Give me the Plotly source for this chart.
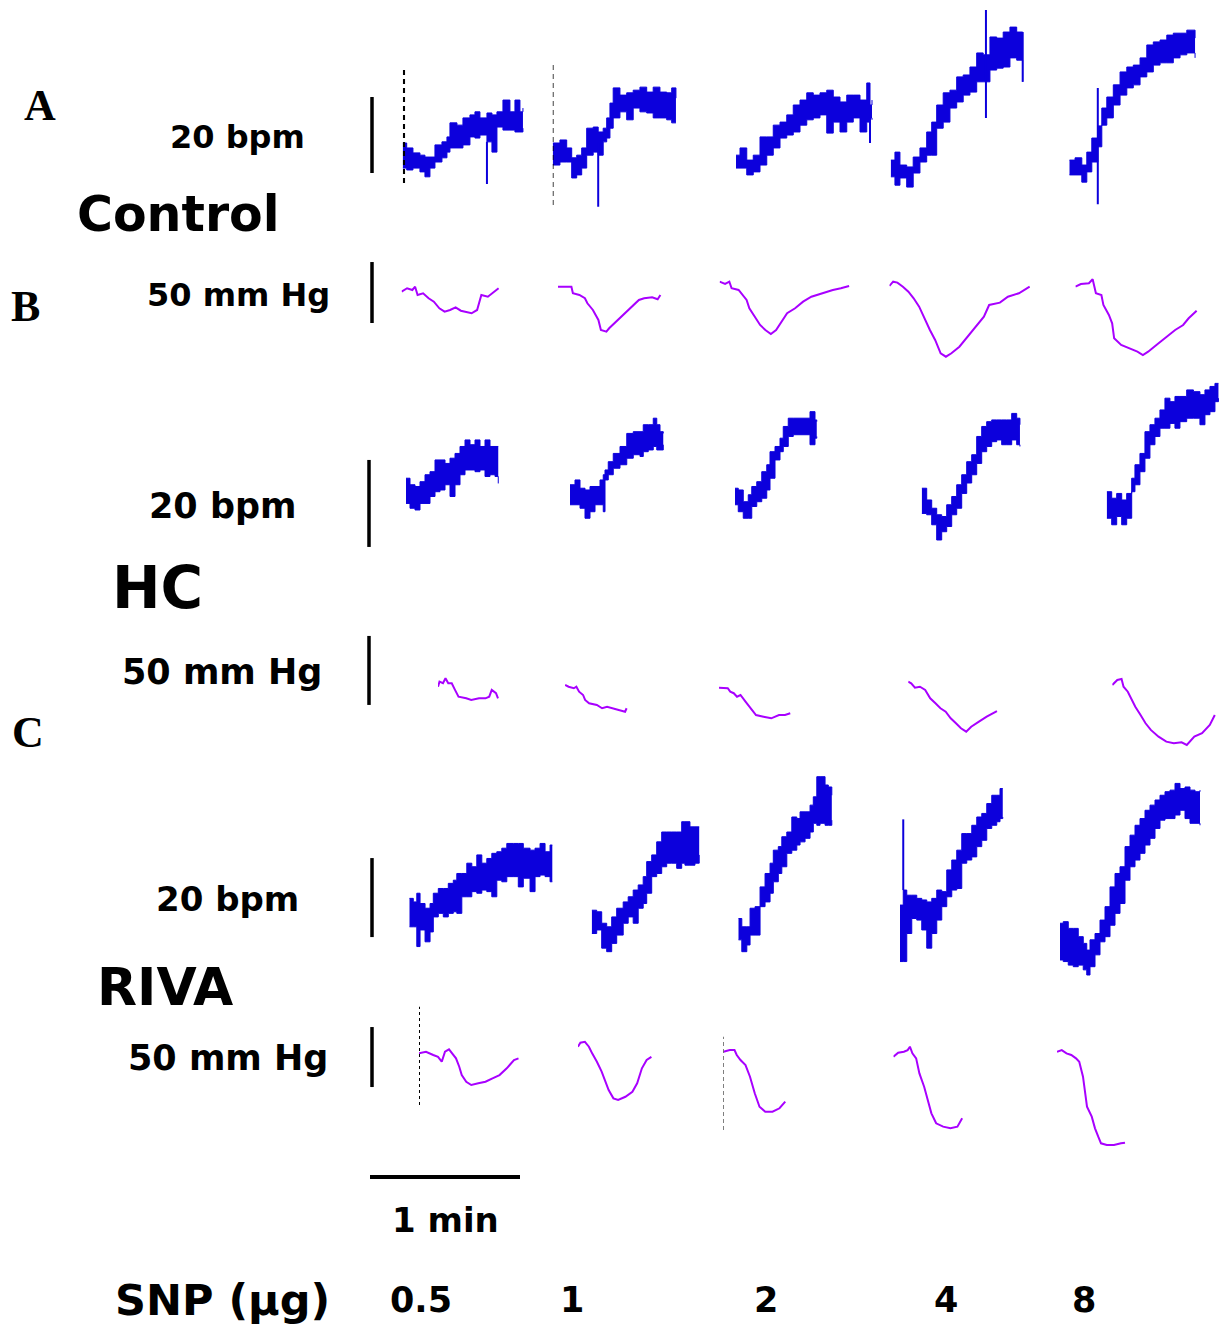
import plotly.graph_objects as go

# ------------------------------------------------------------------ data
# Heart-rate traces (bpm, row-relative units); band = beat-to-beat spread (HI/LO)
# time in seconds from start of each SNP response
C_HR1_T = [0, 1.6, 4.1, 6.9, 8.9, 10.9, 12.9, 15.7, 17.7, 18.9, 21.7, 24.1, 26.9, 28.9, 30.9, 33.7, 35.7, 37.7, 40.1, 42.9, 44.9, 46.9, 48.1]
C_HR1_HI = [15.0, 13.7, 12.4, 11.8, 11.3, 11.3, 14.5, 15.3, 16.6, 20.3, 19.7, 21.6, 22.4, 23.2, 21.6, 22.9, 22.4, 23.2, 26.3, 23.2, 26.3, 23.2, 24.2]
C_HR1_LO = [8.4, 7.9, 8.4, 7.4, 6.1, 8.4, 10.0, 11.1, 12.6, 13.7, 13.7, 14.5, 16.6, 16.3, 17.1, 15.3, 12.6, 19.2, 18.4, 18.4, 17.9, 17.9, 18.9]
C_HR1_SPK = [(33.7, 15.3, 4.2)]

C_HR2_T = [0, 2.9, 5.6, 7.6, 9.6, 11.6, 13.6, 16.2, 18.2, 20.2, 21.6, 22.9, 24.2, 26.9, 29.6, 32.2, 34.9, 37.6, 40.2, 42.9, 45.6, 47.6, 49.3]
C_HR2_HI = [15.0, 15.8, 13.7, 11.1, 11.8, 13.7, 18.9, 19.2, 17.9, 18.9, 21.6, 25.5, 29.5, 27.6, 28.2, 28.9, 29.7, 28.4, 29.7, 28.4, 28.2, 29.5, 26.8]
C_HR2_LO = [9.2, 10.0, 10.0, 5.8, 6.6, 8.4, 11.8, 12.6, 11.8, 15.3, 16.3, 18.9, 21.6, 23.2, 21.1, 24.2, 23.2, 22.9, 21.6, 21.6, 21.1, 20.3, 20.3]
C_HR2_SPK = [(18.2, 15.0, -1.8)]

C_HR3_T = [0, 1.6, 4.3, 6.9, 9.6, 12.3, 14.9, 17.6, 20.3, 22.9, 25.6, 28.3, 30.9, 33.6, 36.3, 38.9, 41.6, 44.3, 46.9, 49.6, 52.3, 53.6, 54.4]
C_HR3_HI = [11.8, 13.7, 10.5, 11.8, 16.6, 16.6, 19.7, 20.5, 22.4, 25.0, 26.3, 28.2, 27.6, 28.2, 28.9, 27.1, 25.8, 27.6, 27.6, 26.3, 30.8, 25.0, 26.3]
C_HR3_LO = [8.4, 8.4, 6.6, 7.4, 9.2, 11.8, 13.7, 16.3, 17.1, 17.9, 19.7, 21.1, 21.6, 22.4, 17.6, 20.5, 17.9, 20.5, 21.6, 17.9, 20.5, 21.6, 21.1]
C_HR3_SPK = [(53.6, 22.0, 15.0)]

C_HR4_T = [0, 1.7, 3.7, 6.4, 9.0, 11.7, 14.4, 16.4, 18.4, 21.0, 23.7, 26.4, 29.0, 31.7, 34.4, 37.0, 39.7, 42.4, 45.0, 47.7, 50.4, 52.8]
C_HR4_HI = [10.5, 12.6, 9.2, 8.7, 11.3, 13.7, 17.9, 20.5, 25.0, 28.2, 28.9, 32.4, 32.9, 35.0, 38.7, 38.2, 42.9, 42.6, 44.2, 45.5, 44.2, 44.2]
C_HR4_LO = [6.1, 3.9, 5.8, 3.4, 7.1, 10.0, 11.8, 11.8, 18.9, 20.5, 24.2, 25.8, 27.6, 28.4, 31.1, 31.1, 34.2, 34.7, 35.0, 37.4, 36.8, 31.1]
C_HR4_SPK = [(38.1, 50.0, 21.6), (52.8, 44.2, 31.1)]

C_HR5_T = [0, 2.3, 5.0, 7.0, 9.0, 11.4, 13.0, 15.0, 17.6, 20.3, 23.0, 25.6, 28.3, 31.0, 33.6, 36.3, 39.0, 41.6, 44.3, 47.0, 50.3]
C_HR5_HI = [10.5, 11.1, 9.2, 12.6, 16.3, 19.5, 24.2, 27.1, 30.3, 33.7, 35.0, 35.5, 37.4, 40.8, 41.6, 42.1, 43.4, 43.9, 43.9, 44.7, 42.6]
C_HR5_LO = [6.6, 6.6, 4.7, 7.4, 10.0, 14.0, 19.7, 21.6, 25.0, 27.6, 29.5, 30.3, 32.4, 33.7, 35.5, 36.1, 36.1, 37.4, 38.2, 38.7, 37.4]
C_HR5_SPK = [(11.4, 29.5, -1.1)]

# Blood-pressure traces (mm Hg, row-relative units)
C_BP1_T = [0, 2.2, 4.3, 5.4, 6.4, 8.6, 10.8, 12.9, 15.1, 17.2, 19.4, 21.6, 23.7, 25.9, 28.0, 30.2, 31.9, 34.5, 36.6, 38.8]
C_BP1_V = [64.2, 67.0, 65.6, 68.3, 61.5, 62.9, 58.8, 56.0, 50.6, 47.8, 49.2, 51.4, 48.6, 47.8, 46.5, 49.2, 61.5, 60.1, 63.4, 67.0]
C_BP2_T = [0, 5.4, 6.0, 8.6, 10.8, 11.8, 14.0, 15.1, 16.2, 17.2, 19.4, 20.5, 22.6, 24.8, 27.0, 29.1, 31.3, 32.4, 34.5, 37.7, 39.9, 41.0]
C_BP2_V = [68.3, 68.3, 62.9, 61.5, 58.8, 54.7, 49.2, 45.1, 41.0, 32.8, 31.4, 34.2, 38.3, 42.4, 46.5, 50.6, 54.7, 57.4, 58.8, 59.6, 58.0, 61.5]
C_BP3_T = [0, 2.2, 3.9, 4.8, 7.6, 9.1, 10.8, 11.9, 14.0, 16.2, 18.3, 20.5, 22.6, 24.8, 27.0, 30.2, 33.4, 36.7, 41.0, 45.3, 48.5, 51.8]
C_BP3_V = [72.4, 70.5, 72.4, 67.0, 65.6, 61.5, 57.4, 50.6, 43.7, 36.9, 32.8, 29.5, 32.8, 39.6, 46.5, 50.6, 56.0, 60.1, 62.9, 65.6, 67.0, 68.9]
C_BP4_T = [0, 1.5, 3.2, 5.4, 7.6, 9.7, 11.9, 14.0, 16.2, 18.3, 20.5, 22.6, 24.8, 28.0, 31.3, 34.5, 37.8, 39.9, 44.2, 47.4, 51.8, 56.1]
C_BP4_V = [68.9, 72.4, 71.6, 68.3, 64.2, 58.8, 51.9, 42.4, 32.8, 24.6, 13.7, 10.9, 13.7, 19.1, 27.3, 35.5, 43.7, 53.3, 55.2, 60.1, 62.9, 68.3]
C_BP5_T = [0, 2.2, 5.4, 6.9, 8.2, 10.4, 11.2, 13.4, 14.7, 15.5, 18.3, 21.6, 24.8, 27.0, 29.1, 32.4, 36.7, 39.9, 43.1, 45.3, 48.5]
C_BP5_V = [68.3, 70.5, 71.1, 74.4, 62.9, 61.5, 53.3, 45.1, 38.3, 26.0, 20.5, 17.8, 15.0, 12.3, 15.0, 20.5, 27.3, 32.8, 36.9, 42.4, 48.6]

H_HR1_T = [0, 1.6, 3.6, 5.6, 7.6, 9.6, 11.6, 13.6, 15.6, 17.6, 19.6, 21.6, 23.6, 25.6, 27.6, 29.6, 31.6, 33.6, 35.6, 36.9]
H_HR1_HI = [18.8, 17.3, 16.9, 18.0, 19.6, 20.3, 23.0, 23.0, 22.2, 23.4, 24.5, 26.1, 27.6, 26.5, 27.6, 26.1, 27.6, 26.1, 26.1, 26.1]
H_HR1_LO = [13.0, 11.9, 11.5, 13.0, 13.0, 14.6, 15.7, 16.1, 17.3, 14.6, 17.3, 19.6, 20.7, 20.7, 20.3, 20.7, 19.2, 19.6, 19.2, 17.6]
H_HR2_T = [0, 2, 4, 6, 8, 10, 12, 13.3, 14, 15.3, 17.3, 20, 22.7, 25.3, 28, 29.3, 31.3, 33.3, 34.7, 36, 37.3]
H_HR2_HI = [17.3, 18.4, 16.5, 16.1, 16.9, 16.9, 18.4, 19.6, 20.7, 22.6, 24.5, 26.1, 29.1, 29.5, 29.5, 31.1, 31.1, 32.6, 31.1, 29.5, 29.1]
H_HR2_LO = [12.7, 12.7, 11.9, 9.6, 11.1, 12.7, 12.7, 11.1, 18.4, 19.6, 21.1, 21.9, 23.4, 24.2, 23.8, 24.9, 25.3, 26.1, 25.3, 25.3, 26.5]
H_HR3_T = [0, 1.3, 3.3, 5.3, 6.7, 8.7, 10.7, 12.7, 14, 16, 18, 19.3, 21.3, 23.3, 26, 28, 30, 32, 32.7]
H_HR3_HI = [16.5, 16.1, 13.4, 15.0, 16.9, 18.0, 20.3, 21.9, 24.9, 26.1, 28.0, 30.7, 32.6, 32.6, 32.6, 32.6, 34.1, 32.2, 31.8]
H_HR3_LO = [12.7, 11.1, 9.6, 9.6, 12.3, 13.4, 14.2, 16.1, 18.8, 23.0, 24.9, 26.1, 28.4, 28.8, 28.8, 28.8, 26.5, 28.0, 28.4]
H_HR4_T = [0, 2, 4, 6, 8, 10, 12, 14, 16, 18, 20, 22, 24, 26, 28, 30, 32, 34, 36, 38, 39.3]
H_HR4_HI = [16.5, 13.8, 11.9, 10.4, 10.0, 12.7, 14.6, 17.3, 19.6, 22.6, 24.2, 28.4, 30.7, 31.8, 32.2, 32.2, 32.2, 32.2, 33.7, 32.6, 31.1]
H_HR4_LO = [10.7, 10.4, 8.1, 4.6, 6.5, 7.7, 10.4, 11.9, 15.3, 17.7, 19.6, 22.2, 24.9, 26.1, 27.2, 27.6, 26.5, 26.5, 27.6, 26.5, 26.1]
H_HR5_T = [0, 2, 4, 6, 8, 10, 11.3, 13.3, 15.3, 17.3, 19.3, 21.3, 23.3, 25.3, 27.3, 29.3, 32, 34.7, 37.3, 39.3, 41.3, 43.3, 44.7]
H_HR5_HI = [15.7, 14.2, 15.3, 13.8, 15.3, 18.8, 21.9, 24.5, 29.5, 31.1, 32.6, 34.5, 37.2, 36.4, 37.6, 37.6, 39.1, 38.7, 38.0, 39.1, 39.9, 40.6, 40.6]
H_HR5_LO = [9.6, 8.1, 10.0, 8.1, 9.6, 15.7, 17.3, 20.3, 23.4, 26.5, 28.4, 30.3, 30.3, 31.4, 30.3, 31.8, 32.6, 32.6, 31.1, 33.4, 34.1, 36.4, 37.2]

H_BP1_T = [0, 0.6, 2.0, 3.0, 4.1, 5.5, 6.8, 8.2, 11.3, 13.3, 16.4, 19.0, 20.5, 21.5, 23.2, 24.0]
H_BP1_V = [53.1, 56.8, 55.6, 59.2, 55.6, 55.6, 50.8, 45.9, 44.7, 43.5, 44.7, 44.7, 45.9, 50.8, 48.4, 44.7]
H_BP2_T = [0, 1.4, 3.5, 4.5, 5.6, 7.2, 8.0, 9.6, 12.7, 14.8, 16.8, 18.9, 22.0, 24.0, 24.6]
H_BP2_V = [54.4, 53.1, 52.0, 53.1, 49.5, 47.1, 43.5, 41.1, 39.9, 37.5, 38.6, 37.5, 36.3, 35.0, 37.5]
H_BP3_T = [0, 3.5, 4.5, 5.9, 7.2, 8.6, 10.6, 12.7, 14.8, 17.8, 20.9, 24.0, 26.4, 28.5]
H_BP3_V = [52.4, 52.0, 49.5, 48.4, 45.9, 47.1, 42.3, 37.5, 32.6, 31.4, 30.2, 32.6, 32.6, 33.9]
H_BP4_T = [0, 1.2, 2.7, 4.7, 6.8, 8.8, 10.9, 12.9, 15.0, 17.0, 19.1, 21.1, 23.2, 25.2, 28.3, 31.4, 35.5]
H_BP4_V = [56.8, 55.6, 52.4, 53.1, 50.8, 44.7, 41.1, 37.5, 35.0, 30.2, 26.6, 23.0, 20.5, 24.1, 27.8, 31.4, 35.5]
H_BP5_T = [0, 2.0, 3.7, 4.5, 6.2, 7.8, 9.2, 11.3, 13.3, 15.4, 18.5, 21.6, 24.6, 27.7, 29.8, 32.8, 35.9, 39.0, 41.0]
H_BP5_V = [54.4, 58.0, 58.7, 53.1, 49.5, 43.5, 38.6, 32.6, 26.6, 21.8, 16.9, 13.3, 12.1, 12.8, 10.9, 16.9, 19.4, 25.4, 32.6]

R_HR1_T = [0, 1.6, 3.0, 4.3, 6.3, 8.3, 9.6, 11.6, 13.6, 15.6, 17.6, 19.0, 21.0, 23.0, 25.0, 27.0, 29.0, 31.0, 33.0, 35.0, 37.0, 39.0, 41.6, 43.6, 45.6, 48.3, 50.3, 52.3, 54.3, 56.3, 57.2]
R_HR1_HI = [23.2, 22.3, 24.5, 21.9, 20.7, 21.9, 24.5, 25.7, 25.7, 27.0, 27.8, 29.5, 29.5, 32.1, 31.2, 34.2, 32.1, 33.3, 34.6, 35.0, 35.9, 37.1, 37.1, 37.1, 35.9, 35.4, 35.9, 37.1, 35.0, 36.7, 36.7]
R_HR1_LO = [16.0, 16.0, 11.0, 15.2, 12.2, 14.7, 18.5, 19.4, 18.5, 19.4, 19.8, 19.4, 23.6, 23.6, 24.9, 24.5, 25.3, 24.9, 23.6, 27.8, 27.4, 28.7, 28.7, 26.1, 28.3, 24.9, 28.7, 29.1, 28.7, 27.4, 27.4]
R_HR2_T = [0, 2, 4, 6, 8, 10, 12.6, 14.6, 16.6, 18.6, 20.6, 22, 24, 26, 28, 30, 32, 34, 36, 37.3, 39.3, 41.3, 43]
R_HR2_HI = [20.2, 19.8, 16.9, 16.0, 18.5, 20.7, 22.3, 23.6, 25.3, 26.6, 28.7, 32.5, 34.2, 37.5, 40.0, 40.0, 40.0, 40.0, 42.6, 42.6, 41.3, 41.3, 41.3]
R_HR2_LO = [14.3, 15.2, 10.6, 9.7, 11.8, 13.9, 16.9, 18.5, 16.9, 20.7, 21.9, 24.5, 28.7, 29.5, 31.2, 32.1, 32.1, 30.8, 32.1, 31.6, 31.6, 32.1, 34.2]
R_HR3_T = [0, 1.4, 3.4, 4.7, 6.7, 8.7, 10.7, 12.7, 14.0, 16.0, 17.4, 19.4, 21.4, 23.4, 24.7, 26.7, 28.7, 30.0, 31.4, 32.7, 34.7, 36.0, 37.4]
R_HR3_HI = [18.1, 16.0, 16.0, 20.7, 21.1, 26.1, 29.5, 32.1, 35.4, 36.3, 38.8, 40.0, 43.8, 43.4, 45.1, 45.1, 46.8, 48.9, 54.0, 54.0, 51.9, 51.4, 49.3]
R_HR3_LO = [12.7, 9.7, 11.4, 13.9, 13.9, 21.1, 22.3, 24.5, 27.4, 29.5, 31.2, 34.6, 35.4, 36.7, 37.5, 38.4, 40.0, 42.2, 41.7, 42.2, 41.7, 41.7, 43.0]
R_HR4_T = [0, 1.3, 2.7, 4.7, 6.7, 8.7, 10.7, 12.7, 14.7, 16.7, 18.7, 20.7, 22.7, 24.7, 26.7, 28.7, 30.7, 32.7, 34.7, 36.7, 38.7, 40, 41.1]
R_HR4_HI = [21.5, 25.3, 24.0, 24.0, 23.2, 22.8, 22.3, 23.2, 25.3, 24.9, 30.4, 32.9, 35.4, 39.6, 39.6, 41.7, 43.8, 44.7, 47.2, 49.3, 49.3, 51.0, 51.0]
R_HR4_LO = [7.2, 7.2, 14.3, 18.1, 17.7, 15.2, 10.6, 14.3, 17.7, 21.1, 23.6, 25.3, 25.7, 32.1, 32.9, 33.7, 36.3, 37.9, 40.9, 41.7, 42.6, 43.4, 43.8]
R_HR4_SPK = [(1.3, 25.3, 43.2)]
R_HR5_T = [0, 1.3, 3.3, 5.3, 7.3, 9.3, 10.7, 12, 14, 16, 18, 20, 22, 24, 26, 28, 30, 32, 34, 36, 38, 40, 42, 44, 46, 48, 50, 52, 54, 56]
R_HR5_HI = [16.9, 17.3, 15.6, 15.6, 13.5, 11.8, 10.1, 12.7, 14.3, 17.7, 21.1, 26.1, 29.5, 31.2, 36.3, 39.2, 41.7, 43.4, 45.5, 46.8, 48.1, 49.3, 50.2, 50.6, 52.3, 51.0, 51.4, 50.6, 50.2, 50.6]
R_HR5_LO = [7.6, 7.2, 6.3, 5.9, 6.3, 5.1, 3.8, 5.9, 8.9, 12.2, 13.5, 16.4, 19.4, 21.9, 27.8, 31.2, 32.9, 34.6, 36.7, 38.4, 40.9, 43.0, 43.4, 43.4, 44.3, 45.5, 43.4, 42.2, 42.2, 41.7]

R_BP1_T = [0, 2.8, 5.7, 7.6, 9.1, 10.4, 12.0, 13.3, 14.8, 16.1, 17.1, 18.9, 20.9, 23.7, 26.6, 29.4, 32.2, 35.1, 38.0, 39.8]
R_BP1_V = [88.9, 90.2, 87.5, 86.0, 81.9, 90.2, 92.2, 88.9, 84.7, 77.7, 70.8, 65.2, 62.5, 63.9, 65.2, 68.1, 70.8, 76.4, 83.3, 84.7]
R_BP2_T = [0, 1.0, 2.8, 4.4, 5.7, 7.6, 9.5, 10.8, 12.3, 14.2, 16.1, 19.0, 21.8, 23.7, 25.6, 27.5, 29.4]
R_BP2_V = [94.4, 97.7, 98.5, 94.4, 88.9, 81.9, 73.6, 66.6, 58.3, 51.4, 50.0, 52.7, 56.9, 63.9, 76.4, 83.3, 86.0]
R_BP3_T = [0, 2.5, 4.4, 5.3, 6.8, 8.8, 10.6, 12.5, 14.4, 16.7, 19.6, 22.4, 24.7]
R_BP3_V = [90.2, 91.6, 91.6, 87.5, 83.3, 79.1, 69.4, 55.6, 44.4, 40.2, 40.2, 43.1, 48.6]
R_BP4_T = [0, 1.9, 4.2, 5.7, 6.6, 7.6, 9.1, 10.4, 12.3, 13.6, 15.2, 17.1, 19.9, 22.8, 25.6, 27.5]
R_BP4_V = [86.0, 89.4, 90.2, 91.6, 94.4, 88.9, 84.7, 72.2, 61.1, 50.0, 38.9, 30.6, 27.8, 26.4, 27.8, 34.7]
R_BP5_T = [0, 1.9, 3.8, 5.7, 7.6, 8.9, 10.4, 12.0, 13.9, 15.2, 16.5, 17.6, 19.9, 22.8, 25.6, 27.2]
R_BP5_V = [90.2, 91.6, 88.9, 87.5, 84.7, 81.9, 69.4, 44.4, 36.1, 26.4, 19.4, 13.9, 12.5, 12.5, 13.9, 14.4]

# injection markers: (time s, lower value, upper value)
C_HR1_INJ = (0.5, 4.5, 35.0)
C_HR2_INJ = (0.1, -1.3, 36.1)
R_BP1_INJ = (0.0, 45.8, 127.7)
R_BP3_INJ = (0.0, 25.0, 102.7)

SNP_DOSES = ["0.5", "1", "2", "4", "8"]
GROUPS = ["Control", "HC", "RIVA"]
HR_SCALE_BPM = 20
BP_SCALE_MMHG = 50
TIME_SCALE_S = 60

# ------------------------------------------------------------------ layout constants
W, H = 1221, 1331
PX_PER_S = 2.5
HR_BLUE = "#0c00dc"
BP_PURPLE = "#a800ff"
FONT = "DejaVu Sans"

# rows: (px top, px bottom, reference px, px per unit)
ROWS = [
    (0, 240, 200, 3.8),       # Control HR
    (250, 380, 370, 1.22),    # Control BP
    (370, 560, 560, 4.35),    # HC HR
    (620, 760, 760, 1.38),    # HC BP
    (760, 990, 990, 3.95),    # RIVA HR
    (990, 1160, 1160, 1.2),   # RIVA BP
]
# start of each trace in px, per row
ONSET_PX = [
    [402.7, 552.7, 736, 890.7, 1069.3],
    [401.6, 557.9, 719.6, 889.4, 1075.4],
    [406, 570, 735, 921.7, 1106.7],
    [438, 565.1, 719, 908.2, 1112.3],
    [409.3, 591.7, 738.3, 900, 1060],
    [419, 577.9, 723.5, 893.4, 1057],
]

HR_ROWS = {
    0: [(C_HR1_T, C_HR1_HI, C_HR1_LO, C_HR1_SPK), (C_HR2_T, C_HR2_HI, C_HR2_LO, C_HR2_SPK),
        (C_HR3_T, C_HR3_HI, C_HR3_LO, C_HR3_SPK), (C_HR4_T, C_HR4_HI, C_HR4_LO, C_HR4_SPK),
        (C_HR5_T, C_HR5_HI, C_HR5_LO, C_HR5_SPK)],
    2: [(H_HR1_T, H_HR1_HI, H_HR1_LO, []), (H_HR2_T, H_HR2_HI, H_HR2_LO, []),
        (H_HR3_T, H_HR3_HI, H_HR3_LO, []), (H_HR4_T, H_HR4_HI, H_HR4_LO, []),
        (H_HR5_T, H_HR5_HI, H_HR5_LO, [])],
    4: [(R_HR1_T, R_HR1_HI, R_HR1_LO, []), (R_HR2_T, R_HR2_HI, R_HR2_LO, []),
        (R_HR3_T, R_HR3_HI, R_HR3_LO, []), (R_HR4_T, R_HR4_HI, R_HR4_LO, R_HR4_SPK),
        (R_HR5_T, R_HR5_HI, R_HR5_LO, [])],
}
BP_ROWS = {
    1: [(C_BP1_T, C_BP1_V), (C_BP2_T, C_BP2_V), (C_BP3_T, C_BP3_V), (C_BP4_T, C_BP4_V), (C_BP5_T, C_BP5_V)],
    3: [(H_BP1_T, H_BP1_V), (H_BP2_T, H_BP2_V), (H_BP3_T, H_BP3_V), (H_BP4_T, H_BP4_V), (H_BP5_T, H_BP5_V)],
    5: [(R_BP1_T, R_BP1_V), (R_BP2_T, R_BP2_V), (R_BP3_T, R_BP3_V), (R_BP4_T, R_BP4_V), (R_BP5_T, R_BP5_V)],
}
INJ_MARKERS = [(0, 0, C_HR1_INJ, 2.2, "5px,4px"), (0, 1, C_HR2_INJ, 1.2, "5px,4px"),
               (5, 0, R_BP1_INJ, 2.0, "3px,3px"), (5, 2, R_BP3_INJ, 1.0, "4px,3px")]

fig = go.Figure()
layout = dict(width=W, height=H, margin=dict(l=0, r=0, t=0, b=0),
              paper_bgcolor="white", plot_bgcolor="rgba(0,0,0,0)", showlegend=False)


def ax_name(prefix, k):
    return prefix if k == 1 else f"{prefix}{k}"


# y axes, one per row
for r, (top, bot, ref, s) in enumerate(ROWS):
    layout["yaxis" + ("" if r == 0 else str(r + 1))] = dict(
        domain=[1 - bot / H, 1 - top / H], range=[(ref - bot) / s, (ref - top) / s],
        visible=False, fixedrange=True, anchor=ax_name("x", r * 5 + 1))

# x axes, one per trace
for r in range(6):
    for c in range(5):
        k = r * 5 + c + 1
        x0 = ONSET_PX[r][c]
        layout["xaxis" + ("" if k == 1 else str(k))] = dict(
            domain=[x0 / W, 1], range=[0, (W - x0) / PX_PER_S],
            visible=False, fixedrange=True, anchor=ax_name("y", r + 1))
# time scale-bar axis
TB_X0 = 370
layout["xaxis31"] = dict(domain=[TB_X0 / W, 1], range=[0, (W - TB_X0) / PX_PER_S],
                         visible=False, fixedrange=True, anchor="y")

for r, traces in HR_ROWS.items():
    for c, (t, hi, lo, spk) in enumerate(traces):
        xa, ya = ax_name("x", r * 5 + c + 1), ax_name("y", r + 1)
        fig.add_trace(go.Scatter(x=t, y=lo, mode="lines", xaxis=xa, yaxis=ya, hoverinfo="skip",
                                 line=dict(color=HR_BLUE, width=1, shape="hv")))
        fig.add_trace(go.Scatter(x=t, y=hi, mode="lines", xaxis=xa, yaxis=ya, hoverinfo="skip",
                                 fill="tonexty", fillcolor=HR_BLUE,
                                 line=dict(color=HR_BLUE, width=1, shape="hv")))
        if spk:
            sx, sy = [], []
            for (ts, a, b) in spk:
                sx += [ts, ts, None]
                sy += [a, b, None]
            fig.add_trace(go.Scatter(x=sx, y=sy, mode="lines", xaxis=xa, yaxis=ya, hoverinfo="skip",
                                     line=dict(color=HR_BLUE, width=2)))

for r, traces in BP_ROWS.items():
    for c, (t, v) in enumerate(traces):
        xa, ya = ax_name("x", r * 5 + c + 1), ax_name("y", r + 1)
        fig.add_trace(go.Scatter(x=t, y=v, mode="lines", xaxis=xa, yaxis=ya, hoverinfo="skip",
                                 line=dict(color=BP_PURPLE, width=2, shape="linear")))

for (r, c, (ti, a, b), wdt, dash) in INJ_MARKERS:
    xa, ya = ax_name("x", r * 5 + c + 1), ax_name("y", r + 1)
    fig.add_trace(go.Scatter(x=[ti, ti], y=[a, b], mode="lines", xaxis=xa, yaxis=ya, hoverinfo="skip",
                             line=dict(color="black", width=wdt, dash=dash)))

shapes = []
# vertical scale bars: (row, x px, bottom value, size)
V_BARS = [(0, 372, 7.1, HR_SCALE_BPM), (1, 372, 38.5, BP_SCALE_MMHG),
          (2, 369, 3.0, HR_SCALE_BPM), (3, 369, 39.9, BP_SCALE_MMHG),
          (4, 372, 13.4, HR_SCALE_BPM), (5, 372, 60.8, BP_SCALE_MMHG)]
for (r, xp, base, size) in V_BARS:
    shapes.append(dict(type="line", xref="paper", yref=ax_name("y", r + 1),
                       x0=xp / W, x1=xp / W, y0=base, y1=base + size,
                       line=dict(color="black", width=3.5)))
shapes.append(dict(type="line", xref="x31", yref="paper", x0=0, x1=TIME_SCALE_S,
                   y0=1 - 1177 / H, y1=1 - 1177 / H, line=dict(color="black", width=4)))
layout["shapes"] = shapes

ann = []


def txt(s, xp, yp, size, family=FONT):
    ann.append(dict(text=f"<b>{s}</b>", x=xp / W, y=1 - yp / H, xref="paper", yref="paper",
                    showarrow=False, xanchor="center", yanchor="middle",
                    font=dict(family=family, size=size, color="black")))


txt("A", 40, 106, 44, "Liberation Serif")
txt("B", 25, 306, 44, "Liberation Serif")
txt("C", 28, 732, 44, "Liberation Serif")

txt(f"{HR_SCALE_BPM} bpm", 237, 137, 32)
txt(GROUPS[0], 178, 215, 49)
txt(f"{BP_SCALE_MMHG} mm Hg", 238, 295, 32)
txt(f"{HR_SCALE_BPM} bpm", 222, 506, 35)
txt(GROUPS[1], 157, 588, 58)
txt(f"{BP_SCALE_MMHG} mm Hg", 222, 672, 35)
txt(f"{HR_SCALE_BPM} bpm", 227, 899, 34)
txt(GROUPS[2], 165, 987, 52)
txt(f"{BP_SCALE_MMHG} mm Hg", 228, 1058, 35)
txt("1 min", 445, 1220, 34)
txt("SNP (µg)", 222, 1300, 43)
for d, xp in zip(SNP_DOSES, [421, 572, 766, 946, 1084]):
    txt(d, xp, 1300, 35)
layout["annotations"] = ann

fig.update_layout(**layout)
fig.write_html("out.html", config={"staticPlot": True},
               post_script="document.body.style.margin='0px';document.body.style.padding='0px';")
